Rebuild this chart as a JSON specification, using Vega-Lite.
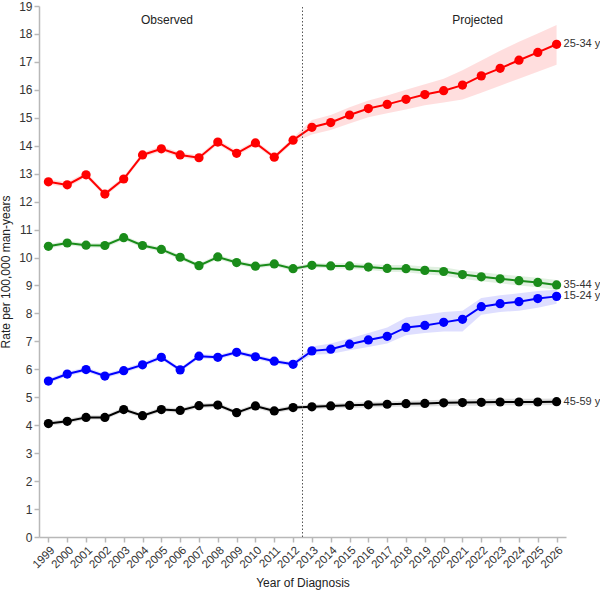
{
  "$schema": "https://vega.github.io/schema/vega-lite/v6.json",
  "width": 527,
  "height": 531,
  "autosize": "none",
  "padding": {"left": 39, "top": 6, "right": 34, "bottom": 57},
  "config": {
    "view": {"stroke": null},
    "font": "Liberation Sans",
    "axis": {
      "grid": false,
      "domainColor": "#b8b8b8",
      "domainWidth": 1.5,
      "tickColor": "#b8b8b8",
      "tickWidth": 1.5,
      "tickSize": 5,
      "labelColor": "#333333",
      "labelFontSize": 12,
      "labelOverlap": false,
      "labelFlush": false,
      "titleColor": "#222222",
      "titleFontSize": 12,
      "titleFontWeight": "normal"
    }
  },
  "encoding": {
    "x": {
      "field": "year", "type": "quantitative",
      "scale": {"domain": [1998.5, 2026.5], "nice": false, "zero": false},
      "axis": {
        "title": "Year of Diagnosis",
        "values": [1999,2000,2001,2002,2003,2004,2005,2006,2007,2008,2009,2010,2011,2012,2013,2014,2015,2016,2017,2018,2019,2020,2021,2022,2023,2024,2025,2026],
        "format": "d",
        "labelOverlap": false,
        "labelAngle": -45,
        "labelAlign": "right",
        "labelBaseline": "top",
        "labelFontSize": 11.5,
        "titlePadding": 7
      }
    },
    "y": {
      "field": "rate", "type": "quantitative", "stack": null,
      "scale": {"domain": [0, 19], "nice": false},
      "axis": {
        "title": "Rate per 100,000 man-years",
        "values": [0,1,2,3,4,5,6,7,8,9,10,11,12,13,14,15,16,17,18,19],
        "labelOverlap": false,
        "titlePadding": 6
      }
    }
  },
  "datasets": {
    "rates": [
      {"year": 1999, "group": "25-34 y", "rate": 12.71, "lo": 12.62, "hi": 12.80},
      {"year": 2000, "group": "25-34 y", "rate": 12.60, "lo": 12.51, "hi": 12.69},
      {"year": 2001, "group": "25-34 y", "rate": 12.96, "lo": 12.87, "hi": 13.05},
      {"year": 2002, "group": "25-34 y", "rate": 12.27, "lo": 12.18, "hi": 12.36},
      {"year": 2003, "group": "25-34 y", "rate": 12.81, "lo": 12.72, "hi": 12.90},
      {"year": 2004, "group": "25-34 y", "rate": 13.67, "lo": 13.58, "hi": 13.76},
      {"year": 2005, "group": "25-34 y", "rate": 13.89, "lo": 13.80, "hi": 13.98},
      {"year": 2006, "group": "25-34 y", "rate": 13.67, "lo": 13.58, "hi": 13.76},
      {"year": 2007, "group": "25-34 y", "rate": 13.57, "lo": 13.48, "hi": 13.66},
      {"year": 2008, "group": "25-34 y", "rate": 14.13, "lo": 14.04, "hi": 14.22},
      {"year": 2009, "group": "25-34 y", "rate": 13.73, "lo": 13.64, "hi": 13.82},
      {"year": 2010, "group": "25-34 y", "rate": 14.10, "lo": 14.01, "hi": 14.19},
      {"year": 2011, "group": "25-34 y", "rate": 13.59, "lo": 13.50, "hi": 13.68},
      {"year": 2012, "group": "25-34 y", "rate": 14.20, "lo": 14.11, "hi": 14.29},
      {"year": 2013, "group": "25-34 y", "rate": 14.66, "lo": 14.40, "hi": 14.92},
      {"year": 2014, "group": "25-34 y", "rate": 14.83, "lo": 14.56, "hi": 15.10},
      {"year": 2015, "group": "25-34 y", "rate": 15.10, "lo": 14.80, "hi": 15.38},
      {"year": 2016, "group": "25-34 y", "rate": 15.33, "lo": 15.02, "hi": 15.62},
      {"year": 2017, "group": "25-34 y", "rate": 15.48, "lo": 15.16, "hi": 15.80},
      {"year": 2018, "group": "25-34 y", "rate": 15.66, "lo": 15.30, "hi": 16.00},
      {"year": 2019, "group": "25-34 y", "rate": 15.83, "lo": 15.45, "hi": 16.20},
      {"year": 2020, "group": "25-34 y", "rate": 15.97, "lo": 15.55, "hi": 16.40},
      {"year": 2021, "group": "25-34 y", "rate": 16.17, "lo": 15.65, "hi": 16.70},
      {"year": 2022, "group": "25-34 y", "rate": 16.50, "lo": 15.90, "hi": 17.05},
      {"year": 2023, "group": "25-34 y", "rate": 16.77, "lo": 16.15, "hi": 17.40},
      {"year": 2024, "group": "25-34 y", "rate": 17.06, "lo": 16.40, "hi": 17.72},
      {"year": 2025, "group": "25-34 y", "rate": 17.34, "lo": 16.65, "hi": 18.02},
      {"year": 2026, "group": "25-34 y", "rate": 17.63, "lo": 16.90, "hi": 18.32},

      {"year": 1999, "group": "35-44 y", "rate": 10.40, "lo": 10.32, "hi": 10.48},
      {"year": 2000, "group": "35-44 y", "rate": 10.52, "lo": 10.44, "hi": 10.60},
      {"year": 2001, "group": "35-44 y", "rate": 10.44, "lo": 10.36, "hi": 10.52},
      {"year": 2002, "group": "35-44 y", "rate": 10.43, "lo": 10.35, "hi": 10.51},
      {"year": 2003, "group": "35-44 y", "rate": 10.71, "lo": 10.63, "hi": 10.79},
      {"year": 2004, "group": "35-44 y", "rate": 10.43, "lo": 10.35, "hi": 10.51},
      {"year": 2005, "group": "35-44 y", "rate": 10.29, "lo": 10.21, "hi": 10.37},
      {"year": 2006, "group": "35-44 y", "rate": 10.01, "lo": 9.93, "hi": 10.09},
      {"year": 2007, "group": "35-44 y", "rate": 9.71, "lo": 9.63, "hi": 9.79},
      {"year": 2008, "group": "35-44 y", "rate": 10.02, "lo": 9.94, "hi": 10.10},
      {"year": 2009, "group": "35-44 y", "rate": 9.82, "lo": 9.74, "hi": 9.90},
      {"year": 2010, "group": "35-44 y", "rate": 9.69, "lo": 9.61, "hi": 9.77},
      {"year": 2011, "group": "35-44 y", "rate": 9.77, "lo": 9.69, "hi": 9.85},
      {"year": 2012, "group": "35-44 y", "rate": 9.60, "lo": 9.52, "hi": 9.68},
      {"year": 2013, "group": "35-44 y", "rate": 9.72, "lo": 9.64, "hi": 9.80},
      {"year": 2014, "group": "35-44 y", "rate": 9.70, "lo": 9.61, "hi": 9.79},
      {"year": 2015, "group": "35-44 y", "rate": 9.70, "lo": 9.60, "hi": 9.80},
      {"year": 2016, "group": "35-44 y", "rate": 9.66, "lo": 9.55, "hi": 9.77},
      {"year": 2017, "group": "35-44 y", "rate": 9.61, "lo": 9.49, "hi": 9.73},
      {"year": 2018, "group": "35-44 y", "rate": 9.60, "lo": 9.47, "hi": 9.73},
      {"year": 2019, "group": "35-44 y", "rate": 9.54, "lo": 9.40, "hi": 9.68},
      {"year": 2020, "group": "35-44 y", "rate": 9.50, "lo": 9.35, "hi": 9.65},
      {"year": 2021, "group": "35-44 y", "rate": 9.39, "lo": 9.24, "hi": 9.54},
      {"year": 2022, "group": "35-44 y", "rate": 9.31, "lo": 9.15, "hi": 9.47},
      {"year": 2023, "group": "35-44 y", "rate": 9.24, "lo": 9.08, "hi": 9.40},
      {"year": 2024, "group": "35-44 y", "rate": 9.17, "lo": 9.00, "hi": 9.34},
      {"year": 2025, "group": "35-44 y", "rate": 9.11, "lo": 8.94, "hi": 9.28},
      {"year": 2026, "group": "35-44 y", "rate": 9.02, "lo": 8.84, "hi": 9.20},

      {"year": 1999, "group": "15-24 y", "rate": 5.58, "lo": 5.50, "hi": 5.66},
      {"year": 2000, "group": "15-24 y", "rate": 5.83, "lo": 5.75, "hi": 5.91},
      {"year": 2001, "group": "15-24 y", "rate": 5.99, "lo": 5.91, "hi": 6.07},
      {"year": 2002, "group": "15-24 y", "rate": 5.76, "lo": 5.68, "hi": 5.84},
      {"year": 2003, "group": "15-24 y", "rate": 5.95, "lo": 5.87, "hi": 6.03},
      {"year": 2004, "group": "15-24 y", "rate": 6.16, "lo": 6.08, "hi": 6.24},
      {"year": 2005, "group": "15-24 y", "rate": 6.43, "lo": 6.35, "hi": 6.51},
      {"year": 2006, "group": "15-24 y", "rate": 5.98, "lo": 5.90, "hi": 6.06},
      {"year": 2007, "group": "15-24 y", "rate": 6.47, "lo": 6.39, "hi": 6.55},
      {"year": 2008, "group": "15-24 y", "rate": 6.43, "lo": 6.35, "hi": 6.51},
      {"year": 2009, "group": "15-24 y", "rate": 6.61, "lo": 6.53, "hi": 6.69},
      {"year": 2010, "group": "15-24 y", "rate": 6.45, "lo": 6.37, "hi": 6.53},
      {"year": 2011, "group": "15-24 y", "rate": 6.29, "lo": 6.21, "hi": 6.37},
      {"year": 2012, "group": "15-24 y", "rate": 6.18, "lo": 6.10, "hi": 6.26},
      {"year": 2013, "group": "15-24 y", "rate": 6.66, "lo": 6.52, "hi": 6.82},
      {"year": 2014, "group": "15-24 y", "rate": 6.72, "lo": 6.55, "hi": 6.92},
      {"year": 2015, "group": "15-24 y", "rate": 6.90, "lo": 6.68, "hi": 7.10},
      {"year": 2016, "group": "15-24 y", "rate": 7.05, "lo": 6.80, "hi": 7.30},
      {"year": 2017, "group": "15-24 y", "rate": 7.18, "lo": 6.92, "hi": 7.50},
      {"year": 2018, "group": "15-24 y", "rate": 7.50, "lo": 7.22, "hi": 7.85},
      {"year": 2019, "group": "15-24 y", "rate": 7.57, "lo": 7.30, "hi": 7.95},
      {"year": 2020, "group": "15-24 y", "rate": 7.68, "lo": 7.35, "hi": 8.05},
      {"year": 2021, "group": "15-24 y", "rate": 7.79, "lo": 7.35, "hi": 8.10},
      {"year": 2022, "group": "15-24 y", "rate": 8.24, "lo": 7.95, "hi": 8.55},
      {"year": 2023, "group": "15-24 y", "rate": 8.35, "lo": 8.05, "hi": 8.65},
      {"year": 2024, "group": "15-24 y", "rate": 8.42, "lo": 8.10, "hi": 8.72},
      {"year": 2025, "group": "15-24 y", "rate": 8.53, "lo": 8.20, "hi": 8.80},
      {"year": 2026, "group": "15-24 y", "rate": 8.61, "lo": 8.35, "hi": 8.85},

      {"year": 1999, "group": "45-59 y", "rate": 4.06, "lo": 3.98, "hi": 4.14},
      {"year": 2000, "group": "45-59 y", "rate": 4.14, "lo": 4.06, "hi": 4.22},
      {"year": 2001, "group": "45-59 y", "rate": 4.28, "lo": 4.20, "hi": 4.36},
      {"year": 2002, "group": "45-59 y", "rate": 4.28, "lo": 4.20, "hi": 4.36},
      {"year": 2003, "group": "45-59 y", "rate": 4.56, "lo": 4.48, "hi": 4.64},
      {"year": 2004, "group": "45-59 y", "rate": 4.34, "lo": 4.26, "hi": 4.42},
      {"year": 2005, "group": "45-59 y", "rate": 4.56, "lo": 4.48, "hi": 4.64},
      {"year": 2006, "group": "45-59 y", "rate": 4.53, "lo": 4.45, "hi": 4.61},
      {"year": 2007, "group": "45-59 y", "rate": 4.70, "lo": 4.62, "hi": 4.78},
      {"year": 2008, "group": "45-59 y", "rate": 4.72, "lo": 4.64, "hi": 4.80},
      {"year": 2009, "group": "45-59 y", "rate": 4.45, "lo": 4.37, "hi": 4.53},
      {"year": 2010, "group": "45-59 y", "rate": 4.69, "lo": 4.61, "hi": 4.77},
      {"year": 2011, "group": "45-59 y", "rate": 4.51, "lo": 4.43, "hi": 4.59},
      {"year": 2012, "group": "45-59 y", "rate": 4.63, "lo": 4.55, "hi": 4.71},
      {"year": 2013, "group": "45-59 y", "rate": 4.66, "lo": 4.58, "hi": 4.74},
      {"year": 2014, "group": "45-59 y", "rate": 4.69, "lo": 4.60, "hi": 4.78},
      {"year": 2015, "group": "45-59 y", "rate": 4.71, "lo": 4.62, "hi": 4.80},
      {"year": 2016, "group": "45-59 y", "rate": 4.73, "lo": 4.63, "hi": 4.83},
      {"year": 2017, "group": "45-59 y", "rate": 4.75, "lo": 4.65, "hi": 4.85},
      {"year": 2018, "group": "45-59 y", "rate": 4.77, "lo": 4.67, "hi": 4.87},
      {"year": 2019, "group": "45-59 y", "rate": 4.78, "lo": 4.67, "hi": 4.89},
      {"year": 2020, "group": "45-59 y", "rate": 4.80, "lo": 4.69, "hi": 4.91},
      {"year": 2021, "group": "45-59 y", "rate": 4.81, "lo": 4.70, "hi": 4.92},
      {"year": 2022, "group": "45-59 y", "rate": 4.82, "lo": 4.70, "hi": 4.94},
      {"year": 2023, "group": "45-59 y", "rate": 4.83, "lo": 4.71, "hi": 4.95},
      {"year": 2024, "group": "45-59 y", "rate": 4.83, "lo": 4.71, "hi": 4.95},
      {"year": 2025, "group": "45-59 y", "rate": 4.83, "lo": 4.71, "hi": 4.95},
      {"year": 2026, "group": "45-59 y", "rate": 4.84, "lo": 4.72, "hi": 4.96}
    ],
    "notes": [
      {"label": "Observed", "year": 2005.3, "rate": 18.5},
      {"label": "Projected", "year": 2021.8, "rate": 18.5}
    ],
    "divider": [{"year": 2012.5, "rate": 0, "top": 19}]
  },
  "layer": [
    {
      "data": {"name": "rates"},
      "mark": {"type": "area", "opacity": 0.13},
      "encoding": {
        "y": {
          "field": "lo", "type": "quantitative", "stack": null,
          "scale": {"domain": [0, 19], "nice": false},
          "axis": {
            "title": "Rate per 100,000 man-years",
            "values": [0,1,2,3,4,5,6,7,8,9,10,11,12,13,14,15,16,17,18,19],
            "labelOverlap": false,
            "titlePadding": 6
          }
        },
        "y2": {"field": "hi"},
        "color": {
          "field": "group", "type": "nominal",
          "scale": {"domain": ["15-24 y", "25-34 y", "35-44 y", "45-59 y"], "range": ["#0000ff", "#ff0000", "#1a8c1a", "#000000"]},
          "legend": null
        }
      }
    },
    {
      "data": {"name": "rates"},
      "mark": {"type": "line", "strokeWidth": 2},
      "encoding": {
        "color": {"field": "group", "type": "nominal", "legend": null}
      }
    },
    {
      "data": {"name": "rates"},
      "mark": {"type": "circle", "size": 85, "opacity": 1},
      "encoding": {
        "color": {"field": "group", "type": "nominal", "legend": null}
      }
    },
    {
      "data": {"name": "rates"},
      "transform": [{"filter": "datum.year == 2026"}],
      "mark": {"type": "text", "align": "left", "baseline": "middle", "dx": 7, "fontSize": 11, "color": "#333333"},
      "encoding": {
        "text": {"field": "group"}
      }
    },
    {
      "data": {"name": "divider"},
      "mark": {"type": "rule", "color": "#555555", "strokeDash": [1.5, 2], "strokeWidth": 1},
      "encoding": {
        "y2": {"field": "top"}
      }
    },
    {
      "data": {"name": "notes"},
      "mark": {"type": "text", "align": "center", "baseline": "middle", "fontSize": 12, "color": "#222222"},
      "encoding": {
        "text": {"field": "label"}
      }
    }
  ]
}
